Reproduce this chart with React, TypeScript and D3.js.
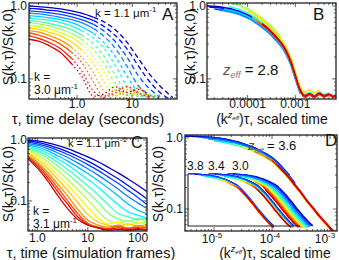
import React from 'react';
import * as d3 from 'd3';

const W = 339, H = 260;
const FONT = '"Liberation Sans", Arial, Helvetica, sans-serif';

// ---------- Panel A (experiment) ----------
const K_A = [1.1, 1.25, 1.4, 1.55, 1.7, 1.85, 2.0, 2.15, 2.3, 2.45, 2.6, 2.75, 2.9, 3.0];
const TAU_A = [0.134, 0.2, 0.3, 0.5, 0.8, 1.2, 2, 3, 5, 8, 13, 20, 32, 55];
const S_A: (number | null)[][] = [
  [1.0, 0.98, 0.955, 0.915, 0.86, 0.8, 0.7, 0.61, 0.47, 0.32, 0.19, 0.12, 0.08, 0.055],
  [0.93, 0.91, 0.88, 0.84, 0.78, 0.72, 0.63, 0.53, 0.39, 0.26, 0.15, 0.095, 0.065, 0.05],
  [0.86, 0.84, 0.81, 0.77, 0.71, 0.65, 0.56, 0.46, 0.32, 0.2, 0.11, 0.075, 0.056, null],
  [0.8, 0.78, 0.75, 0.7, 0.65, 0.59, 0.49, 0.39, 0.26, 0.15, 0.08, 0.062, 0.052, null],
  [0.74, 0.72, 0.69, 0.65, 0.59, 0.52, 0.42, 0.32, 0.2, 0.11, 0.065, 0.056, 0.06, null],
  [0.68, 0.66, 0.64, 0.59, 0.53, 0.46, 0.36, 0.27, 0.15, 0.08, 0.06, 0.055, null, null],
  [0.63, 0.61, 0.58, 0.53, 0.47, 0.4, 0.3, 0.21, 0.11, 0.065, 0.058, 0.062, 0.055, null],
  [0.59, 0.57, 0.54, 0.48, 0.42, 0.35, 0.25, 0.17, 0.085, 0.06, 0.066, 0.057, null, null],
  [0.55, 0.52, 0.49, 0.43, 0.37, 0.3, 0.2, 0.13, 0.068, 0.058, 0.063, 0.06, 0.056, null],
  [0.5, 0.48, 0.44, 0.39, 0.32, 0.25, 0.16, 0.095, 0.06, 0.068, 0.058, 0.064, null, null],
  [0.46, 0.44, 0.4, 0.34, 0.27, 0.2, 0.12, 0.07, 0.058, 0.072, 0.062, 0.056, 0.06, null],
  [0.43, 0.4, 0.36, 0.3, 0.23, 0.17, 0.09, 0.058, 0.07, 0.06, 0.075, 0.058, 0.055, null],
  [0.39, 0.36, 0.32, 0.26, 0.19, 0.13, 0.067, 0.056, 0.065, 0.078, 0.064, 0.057, null, null],
  [0.35, 0.33, 0.29, 0.23, 0.16, 0.11, 0.058, 0.062, 0.078, 0.065, 0.072, 0.058, null, null],
];
const SOLID_END_A = [6, 6, 6, 6, 6, 5, 5, 5, 5, 5, 4, 4, 4, 4];

// ---------- Panel B (collapse, z = 2.8) ----------
const B_LOGX = [-4.9, -4.8, -4.7, -4.6, -4.5, -4.4, -4.3, -4.2, -4.1, -4.0, -3.9, -3.8, -3.7, -3.6, -3.5, -3.4, -3.3, -3.2, -3.1, -3.0, -2.9, -2.8, -2.7, -2.6, -2.5, -2.4, -2.3, -2.2, -2.1];
const B_S = [1.0, 0.995, 0.99, 0.975, 0.955, 0.93, 0.9, 0.86, 0.81, 0.76, 0.7, 0.63, 0.565, 0.5, 0.435, 0.37, 0.31, 0.245, 0.175, 0.11, 0.07, 0.058, 0.062, 0.057, 0.063, 0.058, 0.061, 0.057, 0.06];
const B_START = [-4.9, -4.8, -4.7, -4.6, -4.5, -4.4, -4.3, -4.2, -4.1, -4.0, -3.9, -3.8, -3.7, -3.7];
const B_END = [-2.2, -2.4, -2.9, -2.9, -2.9, -2.3, -3.3, -3.3, -3.3, -2.5, -2.1, -2.2, -2.1, -2.1];
const B_FACTOR = [1.0, 0.97, 0.92, 0.9, 0.95, 1.05, 1.2, 1.2, 1.17, 1.13, 1.0, 0.97, 1.02, 1.0];

// ---------- Panel C (simulation) ----------
const TAU_C = [0.65, 1, 1.6, 2.5, 4, 6.3, 10, 16, 25, 40, 63, 100, 148];
const S_C: number[][] = [
  [1.0, 0.968, 0.9, 0.815, 0.72, 0.62, 0.527, 0.439, 0.359, 0.289, 0.229, 0.179, 0.143],
  [0.955, 0.914, 0.836, 0.741, 0.64, 0.542, 0.449, 0.366, 0.293, 0.231, 0.179, 0.137, 0.108],
  [0.912, 0.865, 0.78, 0.681, 0.579, 0.483, 0.395, 0.317, 0.25, 0.195, 0.149, 0.113, 0.088],
  [0.871, 0.815, 0.721, 0.618, 0.516, 0.421, 0.337, 0.265, 0.206, 0.157, 0.118, 0.092, 0.075],
  [0.832, 0.766, 0.662, 0.553, 0.451, 0.359, 0.281, 0.216, 0.163, 0.121, 0.089, 0.07, 0.062],
  [0.794, 0.719, 0.607, 0.493, 0.389, 0.299, 0.225, 0.167, 0.121, 0.087, 0.066, 0.058, 0.052],
  [0.759, 0.671, 0.55, 0.432, 0.328, 0.243, 0.177, 0.126, 0.088, 0.062, 0.055, 0.049, 0.053],
  [0.724, 0.627, 0.498, 0.378, 0.277, 0.198, 0.139, 0.095, 0.064, 0.05, 0.046, 0.051, 0.045],
  [0.676, 0.569, 0.436, 0.318, 0.225, 0.154, 0.104, 0.068, 0.048, 0.043, 0.047, 0.042, 0.046],
  [0.631, 0.516, 0.382, 0.268, 0.182, 0.12, 0.077, 0.052, 0.042, 0.045, 0.04, 0.044, 0.041],
  [0.603, 0.478, 0.339, 0.229, 0.148, 0.094, 0.06, 0.045, 0.04, 0.038, 0.042, 0.039, 0.041],
  [0.562, 0.433, 0.295, 0.191, 0.12, 0.073, 0.048, 0.04, 0.037, 0.04, 0.036, 0.039, 0.037],
  [0.537, 0.4, 0.265, 0.166, 0.1, 0.062, 0.043, 0.037, 0.035, 0.038, 0.035, 0.037, 0.036],
  [0.513, 0.372, 0.238, 0.145, 0.088, 0.055, 0.041, 0.036, 0.034, 0.036, 0.034, 0.035, 0.034],
  [0.49, 0.345, 0.213, 0.124, 0.074, 0.05, 0.04, 0.036, 0.033, 0.034, 0.033, 0.034, 0.033],
];

// ---------- Panel D (collapse, z = 3.6, inset 3.8 / 3.4 / 3.0) ----------
const D_LOGX = [-5.5, -5.4, -5.3, -5.2, -5.1, -5.0, -4.9, -4.8, -4.7, -4.6, -4.5, -4.4, -4.3, -4.2, -4.1, -4.0, -3.9, -3.8, -3.7, -3.6, -3.5, -3.4, -3.3, -3.2, -3.1, -3.0, -2.9];
const D_S = [1.0, 1.0, 0.99, 0.98, 0.965, 0.95, 0.93, 0.9, 0.865, 0.83, 0.78, 0.735, 0.68, 0.62, 0.56, 0.5, 0.42, 0.345, 0.28, 0.22, 0.175, 0.135, 0.108, 0.085, 0.069, 0.056, 0.047];
const D_START = [-5.5, -5.3, -5.2, -5.1, -5.0, -4.9, -4.7, -4.6, -4.5, -4.4, -4.3, -4.1, -4.0, -3.9];
const D_END = [-3.7, -3.7, -3.6, -3.5, -2.9, -2.9, -2.9, -2.9, -2.9, -2.9, -2.9, -2.9, -2.9, -2.9];
const D_FACTOR = [1.06, 1.06, 1.04, 1.0, 0.96, 0.95, 0.95, 0.95, 0.94, 0.94, 0.95, 0.96, 0.97, 0.98];
const INSET_Z = ['3.8', '3.4', '3.0'];
const INSET_SHIFT = [0, 0.62, 1.2];
const INSET_SPREAD = [0, 0.1, 0.45];

function jet(t: number) {
  const c = (v: number) => Math.round(255 * Math.max(0, Math.min(1, v)));
  return `rgb(${c(1.5 - Math.abs(4 * t - 3))},${c(1.5 - Math.abs(4 * t - 2))},${c(1.5 - Math.abs(4 * t - 1))})`;
}
const colorOf = (i: number, n: number) => jet(0.07 + 0.85 * (i / (n - 1)));

type Sc = d3.ScaleLogarithmic<number, number>;

function Frame({ x, y }: { x: Sc; y: Sc }) {
  const [x0, x1] = x.range();
  const [y0, y1] = y.range();
  const marks: JSX.Element[] = [];
  const dec = (s: Sc) => {
    const [a, b] = s.domain();
    const out: { v: number; major: boolean }[] = [];
    for (let d = Math.floor(Math.log10(Math.min(a, b))); d <= Math.ceil(Math.log10(Math.max(a, b))); d++) {
      for (let m = 1; m <= 9; m++) {
        const v = m * Math.pow(10, d);
        if (v >= Math.min(a, b) && v <= Math.max(a, b)) out.push({ v, major: m === 1 });
      }
    }
    return out;
  };
  dec(y).forEach((t, k) => {
    const py = y(t.v);
    const L = t.major ? 4 : 2;
    marks.push(<line key={'yl' + k} x1={x0} x2={x0 + L} y1={py} y2={py} stroke="#222" strokeWidth={0.7} />);
    marks.push(<line key={'yr' + k} x1={x1} x2={x1 - L} y1={py} y2={py} stroke="#222" strokeWidth={0.7} />);
  });
  dec(x).forEach((t, k) => {
    const px = x(t.v);
    const L = t.major ? 4 : 2;
    marks.push(<line key={'xb' + k} x1={px} x2={px} y1={y0} y2={y0 - L} stroke="#222" strokeWidth={0.7} />);
    marks.push(<line key={'xt' + k} x1={px} x2={px} y1={y1} y2={y1 + L} stroke="#222" strokeWidth={0.7} />);
  });
  return (
    <g>
      {marks}
      <rect x={x0} y={y1} width={x1 - x0} height={y0 - y1} fill="none" stroke="#222" strokeWidth={1.3} />
    </g>
  );
}

function YLabel({ x, y }: { x: number; y: number }) {
  return (
    <text transform={`translate(${x},${y}) rotate(-90)`} textAnchor="middle" fontSize={14}>
      S(k,τ)/S(k,0)
    </text>
  );
}

function ScaledTimeLabel({ x, y }: { x: number; y: number }) {
  return (
    <text x={x} y={y} textAnchor="middle" fontSize={14}>
      (k
      <tspan dy={-6} fontSize={9} fontStyle="italic">z</tspan>
      <tspan dy={2} fontSize={6} fontStyle="italic">eff</tspan>
      <tspan dy={4}>)τ, scaled time</tspan>
    </text>
  );
}

export default function App() {
  const xA = d3.scaleLog().domain([0.134, 65]).range([29, 177]);
  const yA = d3.scaleLog().domain([0.053, 1.1]).range([99, 3]);
  const xB = d3.scaleLog().domain([Math.pow(10, -4.85), Math.pow(10, -2.15)]).range([207, 336]);
  const yB = d3.scaleLog().domain([0.053, 1.1]).range([99, 3]);
  const xC = d3.scaleLog().domain([0.65, 150]).range([28, 147]);
  const yC = d3.scaleLog().domain([0.032, 1.08]).range([231, 138]);
  const xD = d3.scaleLog().domain([Math.pow(10, -5.5), Math.pow(10, -2.88)]).range([185, 337]);
  const yD = d3.scaleLog().domain([0.049, 1.1]).range([231, 135]);
  const xI = d3.scaleLog().domain([Math.pow(10, -5.5), Math.pow(10, -2.0)]).range([188, 303]);
  const yI = d3.scaleLog().domain([0.049, 1.05]).range([226, 174]);

  const lineOf = (xs: Sc, ys: Sc) =>
    d3.line<[number, number]>().x((d) => xs(d[0])).y((d) => ys(d[1])).curve(d3.curveMonotoneX);

  const lineA = lineOf(xA, yA);
  const pathsA = S_A.map((row, i) => {
    const pts: [number, number][] = [];
    row.forEach((v, j) => { if (v !== null) pts.push([TAU_A[j], v]); });
    const cut = SOLID_END_A[i];
    const dash = i < 4 ? '5,3' : i < 8 ? '3,3' : '1.5,2.5';
    return {
      solid: lineA(pts.slice(0, cut + 1)) || '',
      dashed: lineA(pts.slice(cut)) || '',
      dash,
      color: colorOf(i, K_A.length),
    };
  });

  const lineB = lineOf(xB, yB);
  const pathsB = B_START.map((s, i) => {
    const pts: [number, number][] = [];
    B_LOGX.forEach((lx, j) => {
      if (lx >= s - 1e-9 && lx <= B_END[i] + 1e-9) pts.push([Math.pow(10, lx), B_S[j] * B_FACTOR[i]]);
    });
    return { d: lineB(pts) || '', color: colorOf(i, B_START.length) };
  });

  const lineC = lineOf(xC, yC);
  const pathsC = S_C.map((row, i) => ({
    d: lineC(row.map((v, j) => [TAU_C[j], v] as [number, number])) || '',
    color: colorOf(i, S_C.length),
  }));

  const lineD = lineOf(xD, yD);
  const pathsD = D_START.map((s, i) => {
    const pts: [number, number][] = [];
    D_LOGX.forEach((lx, j) => {
      if (lx >= s - 1e-9 && lx <= D_END[i] + 1e-9) pts.push([Math.pow(10, lx), D_S[j] * D_FACTOR[i]]);
    });
    return { d: lineD(pts) || '', color: colorOf(i, D_START.length) };
  });
  const lineI = lineOf(xI, yI);
  const pathsI: { d: string; color: string }[] = [];
  INSET_Z.forEach((_, g) => {
    D_START.forEach((s, i) => {
      const off = INSET_SHIFT[g] - INSET_SPREAD[g] * (i / (D_START.length - 1));
      const pts: [number, number][] = [];
      D_LOGX.forEach((lx, j) => {
        if (lx >= s - 1e-9) pts.push([Math.pow(10, lx + off), D_S[j] * D_FACTOR[i]]);
      });
      pathsI.push({ d: lineI(pts) || '', color: colorOf(i, D_START.length) });
    });
  });

  const sw = 1.3;
  const sup = (s: string) => <tspan dy={-5} fontSize={8}>{s}</tspan>;
  return (
    <svg width={W} height={H} style={{ position: 'absolute', left: 0, top: 0, background: '#fff' }}
      fontFamily={FONT} fill="#111">
      <defs>
        <clipPath id="cA"><rect x={29} y={3} width={148} height={96} /></clipPath>
        <clipPath id="cB"><rect x={207} y={3} width={129} height={96} /></clipPath>
        <clipPath id="cC"><rect x={28} y={138} width={119} height={93} /></clipPath>
        <clipPath id="cD"><rect x={185} y={135} width={152} height={96} /></clipPath>
      </defs>

      {/* ---------- Panel A ---------- */}
      <g clipPath="url(#cA)" fill="none">
        {pathsA.map((p, i) => (
          <g key={i}>
            <path d={p.dashed} stroke={p.color} strokeWidth={sw} strokeDasharray={p.dash} />
            <path d={p.solid} stroke={p.color} strokeWidth={sw} />
          </g>
        ))}
      </g>
      <Frame x={xA} y={yA} />
      <text x={27} y={yA(1) + 4} textAnchor="end" fontSize={12}>1.0</text>
      <text x={27} y={yA(0.1) + 4} textAnchor="end" fontSize={12}>0.1</text>
      <text x={xA(1)} y={107.5} textAnchor="middle" fontSize={12}>1.0</text>
      <text x={xA(10)} y={107.5} textAnchor="middle" fontSize={12}>10</text>
      <text x={88} y={124} textAnchor="middle" fontSize={15}>τ, time delay (seconds)</text>
      <YLabel x={13} y={47} />
      <text x={95} y={17} fontSize={11.5}>k = 1.1 μm{sup('-1')}</text>
      <text x={162} y={20} fontSize={17}>A</text>
      <text x={34} y={81} fontSize={12}>k =</text>
      <text x={34} y={94} fontSize={12}>3.0 μm{sup('-1')}</text>

      {/* ---------- Panel B ---------- */}
      <g clipPath="url(#cB)" fill="none">
        {pathsB.map((p, i) => (
          <path key={i} d={p.d} stroke={p.color} strokeWidth={1.5} />
        ))}
      </g>
      <Frame x={xB} y={yB} />
      <text x={206} y={yB(1) + 4} textAnchor="end" fontSize={12}>1.0</text>
      <text x={206} y={yB(0.1) + 4} textAnchor="end" fontSize={12}>0.1</text>
      <text x={xB(0.0001)} y={107.5} textAnchor="middle" fontSize={12}>0.0001</text>
      <text x={xB(0.001)} y={107.5} textAnchor="middle" fontSize={12}>0.001</text>
      <ScaledTimeLabel x={272} y={124} />
      <YLabel x={195} y={47} />
      <text x={313} y={20} fontSize={17}>B</text>
      <text x={223} y={75} fontSize={15}>
        <tspan fontStyle="italic" fill="#555">z</tspan>
        <tspan dy={3} fontSize={9} fontStyle="italic" fill="#777">eff</tspan>
        <tspan dy={-3}> = 2.8</tspan>
      </text>

      {/* ---------- Panel C ---------- */}
      <g clipPath="url(#cC)" fill="none">
        {pathsC.map((p, i) => (
          <path key={i} d={p.d} stroke={p.color} strokeWidth={sw} />
        ))}
      </g>
      <Frame x={xC} y={yC} />
      <text x={27} y={yC(1) + 4} textAnchor="end" fontSize={12}>1.0</text>
      <text x={27} y={yC(0.1) + 4} textAnchor="end" fontSize={12}>0.1</text>
      <text x={xC(1)} y={241.5} textAnchor="middle" fontSize={12}>1.0</text>
      <text x={xC(10)} y={241.5} textAnchor="middle" fontSize={12}>10</text>
      <text x={xC(100)} y={241.5} textAnchor="middle" fontSize={12}>100</text>
      <text x={91} y={257.5} textAnchor="middle" fontSize={14.5}>τ, time (simulation frames)</text>
      <YLabel x={13} y={184} />
      <text x={68} y={147} fontSize={11}>k = 1.1 μm{sup('-1')}</text>
      <text x={131} y={148} fontSize={16}>C</text>
      <text x={33} y={215} fontSize={12}>k =</text>
      <text x={33} y={228} fontSize={12}>3.1 μm{sup('-1')}</text>

      {/* ---------- Panel D ---------- */}
      <g clipPath="url(#cD)" fill="none">
        {pathsI.map((p, i) => (
          <path key={'i' + i} d={p.d} stroke={p.color} strokeWidth={1.3} />
        ))}
        {pathsD.map((p, i) => (
          <path key={i} d={p.d} stroke={p.color} strokeWidth={1.6} />
        ))}
      </g>
      <path d="M188,174 V226 H300" fill="none" stroke="#222" strokeWidth={1.1} />
      <Frame x={xD} y={yD} />
      <text x={183} y={yD(1) + 4} textAnchor="end" fontSize={12}>1.0</text>
      <text x={183} y={yD(0.1) + 4} textAnchor="end" fontSize={12}>0.1</text>
      {[-5, -4, -3].map((e) => (
        <text key={e} x={Math.min(xD(Math.pow(10, e)) - 2, 325)} y={242.5} textAnchor="middle" fontSize={12}>
          10{sup(String(e))}
        </text>
      ))}
      <ScaledTimeLabel x={275} y={257.5} />
      <YLabel x={163} y={184} />
      <text x={325} y={146} fontSize={17}>D</text>
      <text x={248} y={150} fontSize={13}>
        <tspan fontStyle="italic" fill="#555">z</tspan>
        <tspan dy={3} fontSize={8} fontStyle="italic" fill="#777">eff</tspan>
        <tspan dy={-3}> = 3.6</tspan>
      </text>
      {INSET_Z.map((z, g) => (
        <text key={z} x={[187, 208, 232][g]} y={170} fontSize={12}>{z}</text>
      ))}
    </svg>
  );
}
